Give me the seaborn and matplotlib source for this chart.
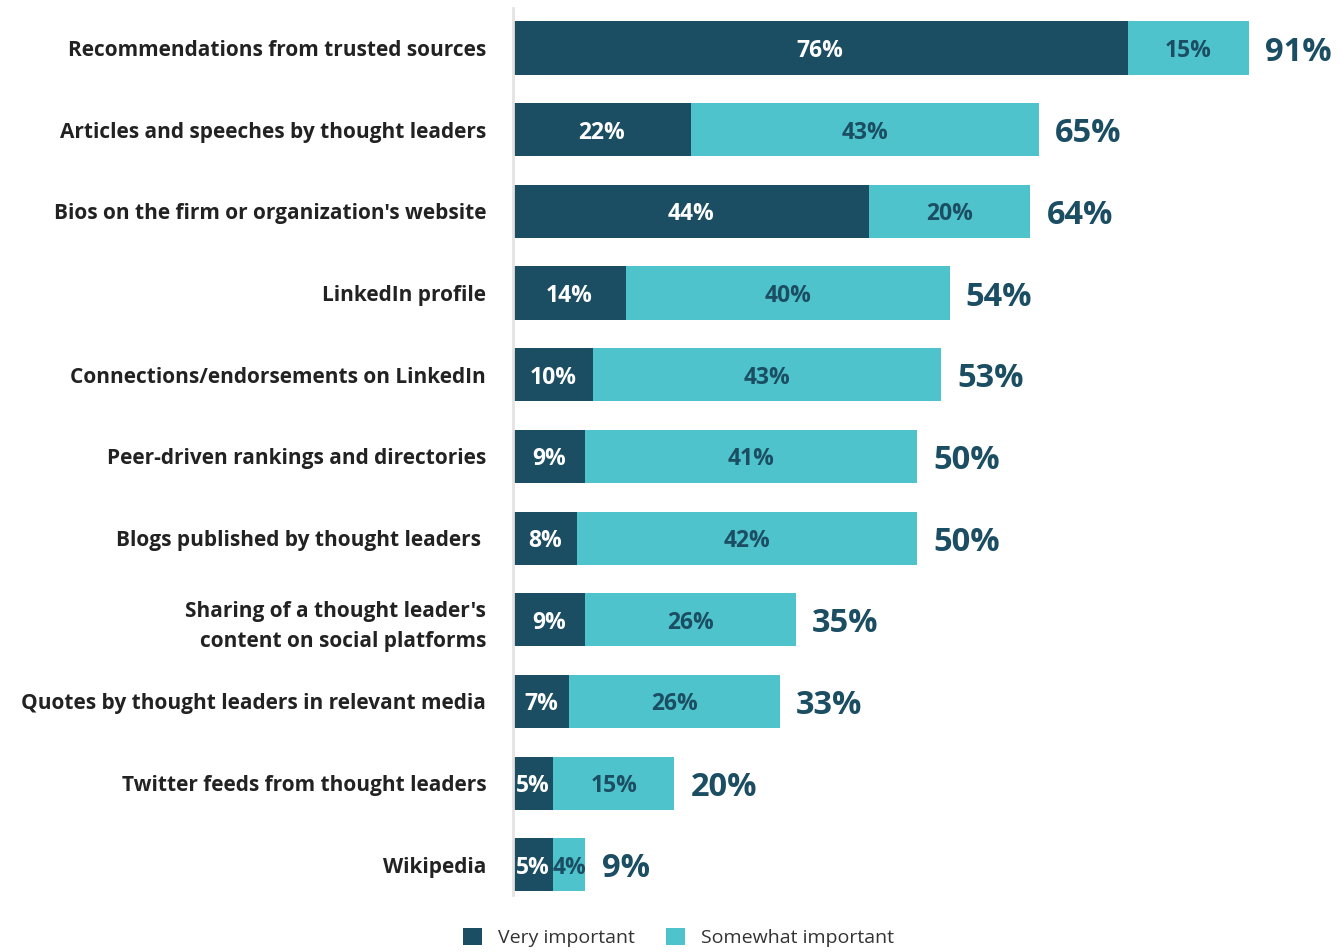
import matplotlib
matplotlib.use("Agg")
import matplotlib.pyplot as plt
import seaborn as sns
import pandas as pd
import numpy as np
from matplotlib.patches import Patch

categories = [
    "Recommendations from trusted sources",
    "Articles and speeches by thought leaders",
    "Bios on the firm or organization's website",
    "LinkedIn profile",
    "Connections/endorsements on LinkedIn",
    "Peer-driven rankings and directories",
    "Blogs published by thought leaders ",
    "Sharing of a thought leader's\ncontent on social platforms",
    "Quotes by thought leaders in relevant media",
    "Twitter feeds from thought leaders",
    "Wikipedia",
]
very_important = [76, 22, 44, 14, 10, 9, 8, 9, 7, 5, 5]
somewhat_important = [15, 43, 20, 40, 43, 41, 42, 26, 26, 15, 4]
series_names = ["Very important", "Somewhat important"]

DARK = "#1B4D63"
LIGHT = "#4FC3CB"

sns.set_theme(style="white")
plt.rcParams["font.family"] = ["Open Sans", "DejaVu Sans"]

df = pd.DataFrame({
    "category": categories,
    "very": very_important,
    "somewhat": somewhat_important,
})
df["total"] = df["very"] + df["somewhat"]

fig = plt.figure(figsize=(13.4, 9.52), dpi=100)
ax = fig.add_axes([0.3825, 0.0599, 0.6075, 0.9317])

sns.barplot(data=df, x="total", y="category", orient="h", color=LIGHT,
            width=0.65, saturation=1, ax=ax, linewidth=0)
sns.barplot(data=df, x="very", y="category", orient="h", color=DARK,
            width=0.65, saturation=1, ax=ax, linewidth=0)

ax.set_xlim(0, 100.6)
ax.set_ylim(10.37, -0.49)

for i, row in df.iterrows():
    v, s, t = row["very"], row["somewhat"], row["total"]
    ax.text(v / 2, i, f"{v}%", ha="center", va="center_baseline", color="white",
            fontsize=16.5, fontweight="bold")
    ax.text(v + s / 2, i, f"{s}%", ha="center", va="center_baseline", color=DARK,
            fontsize=16.5, fontweight="bold")
    ax.text(t + 2.0, i, f"{t}%", ha="left", va="center_baseline", color=DARK,
            fontsize=23.5, fontweight="bold")

ax.set_xlabel("")
ax.set_ylabel("")
ax.set_xticks([])
ax.set_yticks(range(len(categories)))
ax.set_yticklabels(categories, fontsize=15, fontweight="bold", color="#222222",
                   linespacing=1.55)
ax.tick_params(axis="y", length=0, pad=19)
for sp in ["top", "right", "bottom"]:
    ax.spines[sp].set_visible(False)
ax.spines["left"].set_color("#e3e3e3")
ax.spines["left"].set_linewidth(2)

handles = [Patch(facecolor=DARK, edgecolor="none"),
           Patch(facecolor=LIGHT, edgecolor="none")]
fig.legend(handles, series_names, loc="center", bbox_to_anchor=(0.506, 0.015),
           ncol=2, frameon=False, fontsize=14, handlelength=1.0, handleheight=1.0,
           columnspacing=1.6, handletextpad=0.8, labelcolor="#333333")

fig.savefig("out.png", dpi=100)
